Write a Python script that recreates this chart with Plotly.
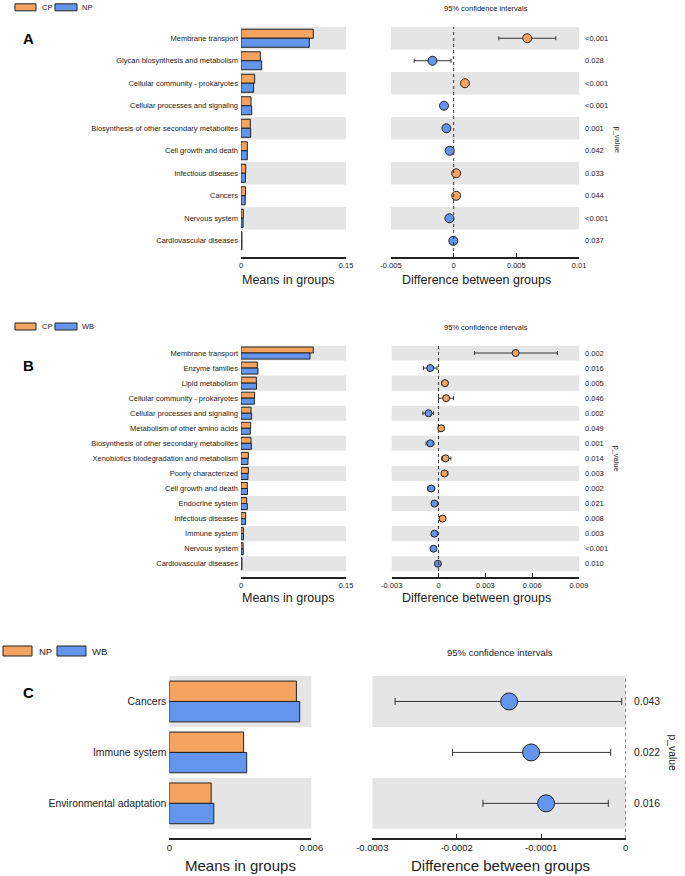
"""STAMP-style extended error bar plots for three pairwise group comparisons."""

import plotly.graph_objects as go

W, H = 685, 876
ORANGE = "#F4A460"
BLUE = "#6495ED"
BAND = "#E5E5E5"
INK = "#222222"
FONT = "Liberation Sans, Arial, sans-serif"

# ---- panel A: CP vs NP
a_groups = ["CP", "NP"]
a_terms = [
    "Membrane transport",
    "Glycan biosynthesis and metabolism",
    "Cellular community - prokaryotes",
    "Cellular processes and signaling",
    "Biosynthesis of other secondary metabolites",
    "Cell growth and death",
    "Infectious diseases",
    "Cancers",
    "Nervous system",
    "Cardiovascular diseases",
]
a_mean1 = [0.1033, 0.0276, 0.0195, 0.0143, 0.0133, 0.0090, 0.0067, 0.0065, 0.0033, 0.0014]
a_mean2 = [0.0976, 0.0295, 0.0180, 0.0153, 0.0138, 0.0090, 0.0063, 0.0060, 0.0030, 0.0014]
a_diff = [0.00587, -0.00169, 0.0009, -0.00077, -0.00058, -0.00032, 0.0002, 0.0002, -0.00034, -0.00003]
a_low = [0.0036, -0.00315, 0.0007, -0.0009, -0.0007, -0.00045, 0.0001, 0.0001, -0.00045, -0.0001]
a_high = [0.00815, -0.00021, 0.0011, -0.00065, -0.00045, -0.0002, 0.0003, 0.0003, -0.00023, 0.00004]
a_p = ["<0.001", "0.028", "<0.001", "<0.001", "0.001", "0.042", "0.033", "0.044", "<0.001", "0.037"]
a_mean_ticks = [0, 0.15]
a_mean_ticktext = ["0", "0.15"]
a_diff_ticks = [-0.005, 0, 0.005, 0.01]
a_diff_ticktext = ["-0.005", "0", "0.005", "0.01"]

# ---- panel B: CP vs WB
b_groups = ["CP", "WB"]
b_terms = [
    "Membrane transport",
    "Enzyme families",
    "Lipid metabolism",
    "Cellular community - prokaryotes",
    "Cellular processes and signaling",
    "Metabolism of other amino acids",
    "Biosynthesis of other secondary metabolites",
    "Xenobiotics biodegradation and metabolism",
    "Poorly characterized",
    "Cell growth and death",
    "Endocrine system",
    "Infectious diseases",
    "Immune system",
    "Nervous system",
    "Cardiovascular diseases",
]
b_mean1 = [0.1033, 0.0233, 0.0219, 0.0195, 0.0143, 0.0138, 0.0143, 0.0105, 0.0105,
           0.0090, 0.0081, 0.0067, 0.0033, 0.0030, 0.0014]
b_mean2 = [0.0986, 0.0243, 0.0222, 0.0190, 0.0152, 0.0133, 0.0148, 0.0100, 0.0100,
           0.0093, 0.0090, 0.0063, 0.0036, 0.0033, 0.0014]
b_diff = [0.00494, -0.00053, 0.00041, 0.00049, -0.00064, 0.00017, -0.00053, 0.00045,
          0.00038, -0.00047, -0.00026, 0.00026, -0.00026, -0.00032, -0.00004]
b_low = [0.0023, -0.00096, 0.0002, 0.0, -0.001, 0.0, -0.0008, 0.0002, 0.0002,
         -0.0007, -0.0004, 0.0001, -0.0004, -0.00045, -0.00015]
b_high = [0.00762, -0.0001, 0.0006, 0.00096, -0.00032, 0.00032, -0.0003, 0.00079, 0.0006,
          -0.00025, -0.0001, 0.0004, -0.0001, -0.0002, 0.00007]
b_p = ["0.002", "0.016", "0.005", "0.046", "0.002", "0.049", "0.001", "0.014",
       "0.003", "0.002", "0.021", "0.008", "0.003", "<0.001", "0.010"]
b_mean_ticks = [0, 0.15]
b_mean_ticktext = ["0", "0.15"]
b_diff_ticks = [-0.003, 0, 0.003, 0.006, 0.009]
b_diff_ticktext = ["-0.003", "0", "0.003", "0.006", "0.009"]

# ---- panel C: NP vs WB
c_groups = ["NP", "WB"]
c_terms = ["Cancers", "Immune system", "Environmental adaptation"]
c_mean1 = [0.00537, 0.00314, 0.00177]
c_mean2 = [0.00551, 0.00327, 0.00188]
c_diff = [-0.000138, -0.000112, -0.0000943]
c_low = [-0.000273, -0.000205, -0.000169]
c_high = [-0.0000047, -0.0000178, -0.0000206]
c_p = ["0.043", "0.022", "0.016"]
c_mean_ticks = [0, 0.006]
c_mean_ticktext = ["0", "0.006"]
c_diff_ticks = [-0.0003, -0.0002, -0.0001, 0]
c_diff_ticktext = ["-0.0003", "-0.0002", "-0.0001", "0"]


def px_x(v):
    return v / W


def px_y(v):
    return 1 - v / H


def sfx(i):
    return "" if i == 1 else str(i)


fig = go.Figure()
shapes, annotations = [], []

panels = [
    dict(letter="A", groups=a_groups, terms=a_terms, m1=a_mean1, m2=a_mean2, diff=a_diff,
         low=a_low, high=a_high, p=a_p, mt=a_mean_ticks, mtt=a_mean_ticktext,
         dt=a_diff_ticks, dtt=a_diff_ticktext, mrange=[0, 0.15], drange=[-0.005, 0.01],
         bar_x=(241, 346), ci_x=(391, 579), top=27, axis=257, pad=0.22,
         small=7.5, tick=7.5, title=12.5, head=7.5, legend_y=7.3, box=(15, 36, 55, 77),
         box_h=7, ltext=(40, 80), lfont=7.5, letter_y=39, pv_x=583, pl_x=617,
         msize=9, cap=2, head_y=8, title_y=280, tx=(0.45, 0.455)),
    dict(letter="B", groups=b_groups, terms=b_terms, m1=b_mean1, m2=b_mean2, diff=b_diff,
         low=b_low, high=b_high, p=b_p, mt=b_mean_ticks, mtt=b_mean_ticktext,
         dt=b_diff_ticks, dtt=b_diff_ticktext, mrange=[0, 0.15], drange=[-0.003, 0.009],
         bar_x=(241, 346), ci_x=(391.7, 579), top=345.5, axis=577, pad=0.38,
         small=7.5, tick=7.5, title=12.5, head=7.5, legend_y=326.5, box=(15, 36, 55, 77),
         box_h=7, ltext=(40, 80), lfont=7.5, letter_y=365, pv_x=583, pl_x=617,
         msize=7, cap=2, head_y=327, title_y=598, tx=(0.45, 0.455)),
    dict(letter="C", groups=c_groups, terms=c_terms, m1=c_mean1, m2=c_mean2, diff=c_diff,
         low=c_low, high=c_high, p=c_p, mt=c_mean_ticks, mtt=c_mean_ticktext,
         dt=c_diff_ticks, dtt=c_diff_ticktext, mrange=[0, 0.006], drange=[-0.0003, 0],
         bar_x=(169.3, 311.3), ci_x=(372.3, 625.7), top=676, axis=838, pad=0.18,
         small=10.4, tick=9.5, title=15, head=9.5, legend_y=651, box=(3, 32, 57, 86),
         box_h=10, ltext=(37, 90), lfont=9.5, letter_y=692, pv_x=632, pl_x=673,
         msize=17, cap=3.5, head_y=652, title_y=865, tx=(0.5, 0.504)),
]

layout_axes = {}
for k, pnl in enumerate(panels):
    bi, ci = sfx(2 * k + 1), sfx(2 * k + 2)
    n = len(pnl["terms"])
    ydom = [px_y(pnl["axis"]), px_y(pnl["top"])]
    yrange = [n - 0.5 + pnl["pad"], -0.5]

    # mean bars
    for vals, color, name in [(pnl["m1"], ORANGE, pnl["groups"][0]),
                              (pnl["m2"], BLUE, pnl["groups"][1])]:
        fig.add_trace(go.Bar(
            x=vals, y=pnl["terms"], orientation="h", name=name,
            marker=dict(color=color, line=dict(color=INK, width=1)),
            xaxis=f"x{bi}", yaxis=f"y{bi}", showlegend=False,
        ))

    # difference with 95% CI
    colors = [ORANGE if d > 0 else BLUE for d in pnl["diff"]]
    fig.add_trace(go.Scatter(
        x=pnl["diff"], y=pnl["terms"], mode="markers",
        marker=dict(color=colors, size=pnl["msize"], line=dict(color=INK, width=1)),
        error_x=dict(type="data", symmetric=False,
                     array=[h - d for h, d in zip(pnl["high"], pnl["diff"])],
                     arrayminus=[d - lo for d, lo in zip(pnl["diff"], pnl["low"])],
                     color="#333333", thickness=1, width=pnl["cap"]),
        xaxis=f"x{ci}", yaxis=f"y{ci}", showlegend=False,
    ))

    xcommon = dict(showgrid=False, zeroline=False, showline=True, linecolor=INK,
                   linewidth=2, ticks="inside", ticklen=4, tickwidth=1.2, tickcolor=INK,
                   tickfont=dict(size=pnl["tick"], color=INK), fixedrange=True,
                   automargin=False)
    layout_axes[f"xaxis{bi}"] = dict(
        xcommon, domain=[px_x(pnl["bar_x"][0]), px_x(pnl["bar_x"][1])], range=pnl["mrange"],
        tickvals=pnl["mt"], ticktext=pnl["mtt"], anchor=f"y{bi}")
    layout_axes[f"xaxis{ci}"] = dict(
        xcommon, domain=[px_x(pnl["ci_x"][0]), px_x(pnl["ci_x"][1])], range=pnl["drange"],
        tickvals=pnl["dt"], ticktext=pnl["dtt"], anchor=f"y{ci}")
    ycommon = dict(domain=ydom, range=yrange, type="category", categoryorder="array",
                   categoryarray=pnl["terms"], showgrid=False, zeroline=False,
                   showline=False, ticks="", fixedrange=True, automargin=False)
    layout_axes[f"yaxis{bi}"] = dict(ycommon, anchor=f"x{bi}", ticklabelstandoff=2,
                                     tickfont=dict(size=pnl["small"], color=INK))
    layout_axes[f"yaxis{ci}"] = dict(ycommon, anchor=f"x{ci}", showticklabels=False)

    # alternating row bands
    for i in range(0, n, 2):
        for ax in (bi, ci):
            shapes.append(dict(type="rect", xref=f"x{ax} domain", x0=0, x1=1,
                               yref=f"y{ax}", y0=i - 0.5, y1=i + 0.5,
                               fillcolor=BAND, line=dict(width=0), layer="below"))
    # zero reference line
    shapes.append(dict(type="line", xref=f"x{ci}", x0=0, x1=0, yref=f"y{ci} domain",
                       y0=0, y1=1, line=dict(color="#333333", width=1, dash="dot")))

    # p-values
    for term, pv in zip(pnl["terms"], pnl["p"]):
        annotations.append(dict(text=pv, x=px_x(pnl["pv_x"]), xref="paper", xanchor="left",
                                y=term, yref=f"y{ci}", yanchor="middle", showarrow=False,
                                font=dict(size=pnl["small"], color=INK)))
    mid = (pnl["top"] + pnl["top"] + n * (pnl["axis"] - pnl["top"]) / (n + pnl["pad"])) / 2
    annotations.append(dict(text="p_value", x=px_x(pnl["pl_x"]), y=px_y(mid), xref="paper",
                            yref="paper", xanchor="center", yanchor="middle", textangle=90,
                            showarrow=False, font=dict(size=pnl["small"], color=INK)))

    # titles
    center = dict(xanchor="center", yanchor="middle", showarrow=False, yref="paper")
    annotations.append(dict(center, text="95% confidence intervals", xref=f"x{ci} domain",
                            x=0.505, y=px_y(pnl["head_y"]),
                            font=dict(size=pnl["head"], color=INK)))
    annotations.append(dict(center, text="Means in groups", xref=f"x{bi} domain",
                            x=pnl["tx"][0], y=px_y(pnl["title_y"]),
                            font=dict(size=pnl["title"], color=INK)))
    annotations.append(dict(center, text="Difference between groups", xref=f"x{ci} domain",
                            x=pnl["tx"][1], y=px_y(pnl["title_y"]),
                            font=dict(size=pnl["title"], color=INK)))
    annotations.append(dict(center, text=f"<b>{pnl['letter']}</b>", xref="paper",
                            x=px_x(28), y=px_y(pnl["letter_y"]),
                            font=dict(size=15, color="#000000")))

    # legend boxes
    b = pnl["box"]
    ly = pnl["legend_y"]
    hh = pnl["box_h"] / 2
    for (x0, x1), color, name, tx in [((b[0], b[1]), ORANGE, pnl["groups"][0], pnl["ltext"][0]),
                                      ((b[2], b[3]), BLUE, pnl["groups"][1], pnl["ltext"][1])]:
        shapes.append(dict(type="rect", xref="paper", yref="paper",
                           x0=px_x(x0), x1=px_x(x1), y0=px_y(ly + hh), y1=px_y(ly - hh),
                           fillcolor=color, line=dict(color=INK, width=1)))
        annotations.append(dict(text=name, xref="paper", x=px_x(tx), xanchor="left",
                                yref="paper", y=px_y(ly), yanchor="middle", showarrow=False,
                                font=dict(size=pnl["lfont"], color=INK)))

fig.update_layout(
    width=W, height=H, autosize=False,
    margin=dict(l=0, r=0, t=0, b=0, pad=0, autoexpand=False),
    paper_bgcolor="white", plot_bgcolor="white",
    barmode="group", bargap=0.2, bargroupgap=0,
    font=dict(family=FONT, color=INK),
    shapes=shapes, annotations=annotations,
    showlegend=False,
    **layout_axes,
)

# drop the page body's default margin so the figure sits at the window corner
fig.write_html("out.html", config={"displayModeBar": False},
               post_script="document.body.style.margin = '0px';")
